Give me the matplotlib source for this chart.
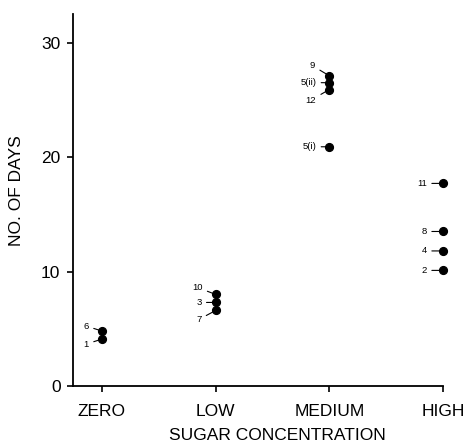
import matplotlib
matplotlib.use("Agg")
import matplotlib.pyplot as plt

plt.rcParams['font.family'] = ['Liberation Sans', 'DejaVu Sans']

categories = ["ZERO", "LOW", "MEDIUM", "HIGH"]
point_cat = [0, 0, 1, 1, 1, 2, 2, 2, 2, 3, 3, 3, 3]
point_days = [4.8, 4.1, 8.0, 7.3, 6.6, 27.1, 26.5, 25.9, 20.9, 17.7, 13.5, 11.8, 10.1]
point_labels = ["6", "1", "10", "3", "7", "9", "5(ii)", "12", "5(i)", "11", "8", "4", "2"]
y_ticks = [0, 10, 20, 30]

# label offsets in pixels (layout only)
offsets = [(-13, 5), (-13, -5), (-13, 7), (-14, 0), (-14, -9), (-14, 10),
           (-13, 0), (-13, -10.5), (-13, 0), (-16, 0), (-16, 0), (-16, 0), (-16, 0)]

fig = plt.figure(figsize=(4.65, 4.43), dpi=100)
ax = fig.add_axes([73/465, (443-386)/443, 370/465, 372/443])

ax.plot(point_cat, point_days, 'o', color='black', markersize=5.6, clip_on=False, zorder=3)

for cx, cy, lab, (dx, dy) in zip(point_cat, point_days, point_labels, offsets):
    ax.annotate(lab, xy=(cx, cy), xytext=(dx, dy), textcoords='offset pixels',
                ha='right', va='center', fontsize=6.8, color='black',
                arrowprops=dict(arrowstyle='-', lw=0.8, color='black',
                                shrinkA=1.5, shrinkB=2.5))

ax.set_xlim(-0.255, 3.0)
ax.set_ylim(0, 32.5)
ax.set_xticks(range(len(categories)))
ax.set_xticklabels(categories, fontsize=12.5)
ax.set_yticks(y_ticks)
ax.set_yticklabels([str(t) for t in y_ticks], fontsize=12.5)
ax.tick_params(axis='both', direction='out', length=4, width=1.2, color='black')
ax.tick_params(axis='x', pad=9)
ax.tick_params(axis='y', pad=5)

for s in ['top', 'right']:
    ax.spines[s].set_visible(False)
for s in ['left', 'bottom']:
    ax.spines[s].set_linewidth(1.3)

ax.set_xlabel("SUGAR CONCENTRATION", fontsize=12.5, va='center')
ax.xaxis.set_label_coords((277-73)/370, -(435-386)/372)
ax.set_ylabel("NO. OF DAYS", fontsize=12.5, va='center')
ax.yaxis.set_label_coords((17-73)/370, (386-191)/372)

fig.savefig("out.png", dpi=100, facecolor='white')
